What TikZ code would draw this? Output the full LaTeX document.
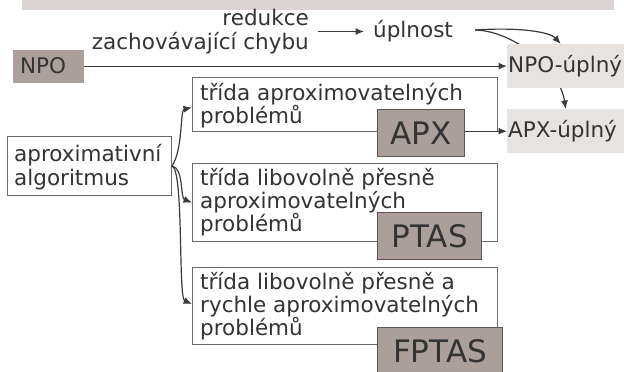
\documentclass[tikz,border=0pt]{standalone}
\usepackage{fontspec}
\setmainfont{DejaVu Sans}
\usetikzlibrary{arrows.meta}
\pgfdeclarelayer{bg}
\pgfsetlayers{bg,main}
\definecolor{txtc}{HTML}{333333}
\definecolor{linec}{HTML}{3A3A3A}
\definecolor{darkfill}{HTML}{AB9F9B}
\definecolor{darkedge}{HTML}{5E5654}
\definecolor{lightfill}{HTML}{E7E3E1}
\definecolor{bandfill}{HTML}{DCD4D2}
\definecolor{boxedge}{HTML}{6A6A6A}
\begin{document}
\begin{tikzpicture}[x=1pt,y=-1pt,
  txt/.style={anchor=base west, inner sep=0pt, text=txtc, font=\fontsize{21.5}{23}\selectfont},
  clsbox/.style={draw=boxedge, line width=1pt, fill=white, anchor=north west, inner sep=0pt},
  darkbox/.style={draw=darkedge, line width=1.2pt, fill=darkfill, anchor=north west, inner sep=0pt, text=txtc, font=\fontsize{31}{35}\selectfont},
  lightbox/.style={fill=lightfill, anchor=north west, inner sep=0pt, text=txtc, font=\fontsize{21.5}{23}\selectfont},
  arr/.style={draw=linec, line width=1.2pt, -{Latex[length=8.5pt,width=7pt]}}
]
\useasboundingbox (0,0) rectangle (624,372);
\node[fill=bandfill, anchor=north west, inner sep=0pt, minimum width=592pt, minimum height=10pt] (band) at (22,0) {};

% top texts
\node[txt, anchor=base east] (red1) at (309,25) {redukce};
\node[txt, anchor=base east] (red2) at (309,49) {zachovávající chybu};
\node[txt] (upl) at (373,37) {úplnost};
\coordinate (us) at ([shift={(22pt,7pt)}]upl.base east);

% NPO
\node[darkbox, draw=none, font=\fontsize{21.5}{23}\selectfont, minimum height=33pt, text width=56pt, inner xsep=7.5pt, align=left] (npo) at (12,49) {NPO};
\node[lightbox, minimum height=44pt, text width=115pt, inner xsep=1pt, align=left] (npou) at (507,44) {NPO-úplný};
\node[lightbox, minimum height=44pt, text width=115pt, inner xsep=1pt, align=left] (apxu) at (507,109) {APX-úplný};

% class boxes
\node[clsbox, minimum width=305pt, minimum height=54pt] (c1) at (192,77) {};
\node[clsbox, minimum width=305pt, minimum height=78pt] (c2) at (192,163) {};
\node[clsbox, minimum width=305pt, minimum height=77pt] (c3) at (192,267) {};
\node[clsbox, minimum width=164pt, minimum height=59pt] (alg) at (7,136) {};

\node[txt] (c1a) at (200,100) {třída aproximovatelných};
\node[txt] (c1b) at (200,123) {problémů};
\node[txt] (c2a) at (200,185) {třída libovolně přesně};
\node[txt] (c2b) at (200,208) {aproximovatelných};
\node[txt] (c2c) at (200,231) {problémů};
\node[txt] (c3a) at (200,289) {třída libovolně přesně a};
\node[txt] (c3b) at (200,312) {rychle aproximovatelných};
\node[txt] (c3c) at (200,335) {problémů};
\node[txt] (alga) at (14,161) {aproximativní};
\node[txt] (algb) at (14,185) {algoritmus};

% dark class labels
\node[darkbox, minimum width=87pt, minimum height=47pt] (apx) at (377,109) {APX};
\node[darkbox, minimum width=104pt, minimum height=47pt] (ptas) at (377,212) {PTAS};
\node[darkbox, minimum width=125pt, minimum height=48pt] (fptas) at (377,327) {FPTAS};

% connectors
\draw[arr] ([shift={(9pt,-6pt)}]red1.south east) -- ([shift={(-9pt,-6pt)}]red1.south east -| upl.west);
\draw[arr] (us) .. controls (520,27) and (550,32) .. ([xshift=-5pt]npou.north);
\begin{pgfonlayer}{bg}
\draw[arr] (us) .. controls (515,31) and (560,70) .. (apxu.north);
\end{pgfonlayer}
\draw[arr] (npo.east) -- (npo.east -| npou.west);
\draw[arr] (apx.east |- apxu.west) -- (apxu.west);
\draw[arr] (alg.east) .. controls (183,150) and (180,110) .. ([yshift=-3pt]c1.west);
\draw[arr] (alg.east) .. controls (184,168) and (180,198) .. (c2.west);
\draw[arr] (alg.east) .. controls (184,170) and (178,298) .. ([yshift=2pt]c3.west);
\end{tikzpicture}
\end{document}
